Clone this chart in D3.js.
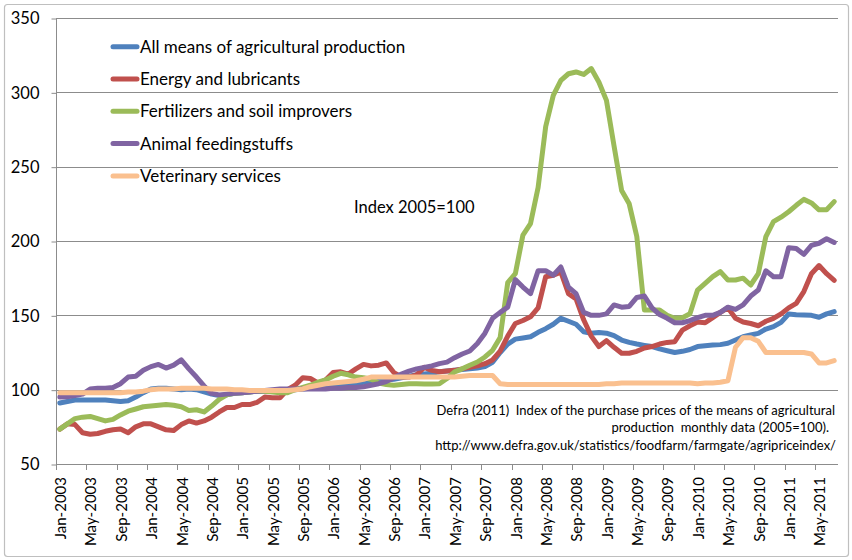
<!DOCTYPE html>
<html><head><meta charset="utf-8">
<script src="https://cdn.jsdelivr.net/npm/d3@7"></script>
<style>
html,body{margin:0;padding:0;background:#fff;}
svg text{font-family:Lato,"Noto Sans",sans-serif;fill:#000;white-space:pre;}
</style></head>
<body><svg id="c" width="852" height="560"></svg>
<script>
// Monthly categories Jan-2003 .. Jul-2011 (103 months)
const months = d3.timeMonth.range(new Date(2003,0,1), new Date(2011,7,1)).map(d3.timeFormat("%b-%Y"));
const tickLabels = ["Jan-2003","May-2003","Sep-2003","Jan-2004","May-2004","Sep-2004","Jan-2005","May-2005","Sep-2005","Jan-2006","May-2006","Sep-2006","Jan-2007","May-2007","Sep-2007","Jan-2008","May-2008","Sep-2008","Jan-2009","May-2009","Sep-2009","Jan-2010","May-2010","Sep-2010","Jan-2011","May-2011"];
const yTicks = [50,100,150,200,250,300,350];
const seriesNames = ["All means of agricultural production","Energy and lubricants","Fertilizers and soil improvers","Animal feedingstuffs","Veterinary services"];
const seriesColors = ["#4F81BD","#C0504D","#9BBB59","#8064A2","#FAC08F"];

const allMeans = [91,92,93,93,93,93,93,92.5,92,92.5,
 95,98,100.5,101,101,100.5,100,100.5,100,98.5,
 97,96,96.5,97.5,98,98.5,99,99,99,99.5,
 100,100,100.5,101,101,101.5,102,102.5,103,104,
 105,105.5,106,106.5,107,108,109,110,110.5,111,
 112,112.5,113,113.5,114,114.6,115.5,118.4,125,130.7,
 134,134.8,135.6,138.6,141,144,148,146,144,139,
 138,138.5,138,136.3,133.4,131.8,130.7,129.8,129,127.4,
 126.2,125,125.8,127,129,129.6,130,130.3,131.2,133.4,
 135.6,136.8,137.9,140.8,142.4,145.3,150.9,150.4,150.2,150,
 148.7,151,152.5];
const energy = [73.5,77,76.5,71,70,70.5,72,73,73.5,71,
 75,77,77,75,73,72.5,76.5,79,77.5,79,
 81.5,85,88,88,90,90,91.5,95,94.5,94.5,
 100,103,108,107.5,104.5,106.5,111.5,112,110.5,114,
 117,116,116.5,118,111.5,108.5,108.5,110,115,113,
 112,112.5,113,114,115,116,117.5,120,126,136,
 144.5,146.5,149,155,176,177,179,164.5,161,147,
 136,129,133,128.5,124.5,124.5,125.8,128,129,130.7,
 131.8,132.3,140,143,145.5,145,148.5,152,155,148,
 145.5,144.5,143,146,148,151,155,158,166,178,
 183.5,178,173.5];
const fertilizers = [73.5,77,80.5,81.5,82,80.5,79,80,83,85.5,
 87,88.5,89,89.5,90,89.5,88.5,86,86.5,85,
 89,93.5,96.5,97.5,98,98.5,99,99,98.5,98,
 98,100,101.5,103,105,106.5,109,111,110,108.5,
 108,107,104.5,103.5,103,103.5,104,104,103.8,103.8,
 104,107.5,112,114,116.4,118.6,122,126.5,135,172,
 178,204,211.7,236,277,298,308,312.5,313.7,312,
 316,307,294.6,264,234,225,203,153.6,153.6,153.6,
 150,148,148.4,151,167,171.5,176,179.4,173.8,173.8,
 175,170.4,178,203,213,216,219.7,224,228,225.6,
 221,221,226.5];
const feed = [95,95.3,96,97,100.4,101,101,101.5,104,108.5,
 109,113,115.5,117,114.5,116.5,120,114,108.5,102.5,
 97.5,96.5,97,97.5,98,98.5,99,99.5,100,100.5,
 100.5,100.5,100.5,100.5,100.5,100.5,101,101,101.5,101.5,
 102,103,104,105.5,108,110.5,112.5,114,115,116,
 117.5,118.5,121.5,124,126,131,138,148,152,155.5,
 174,169,164.6,180,180,177,182.5,169,164.6,152,
 150,150,151,157,155.5,156,162,163,155,150.5,
 148,145,145,146.5,148.5,150,150,152,155.5,154,
 157,163,167,180,176,176,195.5,195,191,197,
 198.5,201.5,199];
const veterinary = [98,98,98,98,98,98,98,98,98,98.5,
 98.5,99,100,100.5,100.5,100.5,101,101,101,101,
 100.5,100.5,100.5,100,100,99.5,99.5,99.5,99.5,99.5,
 99.5,100,100.5,102,103,104,104.5,105,105.5,106,
 107,108.5,108.5,108.5,108.5,108.5,108.5,108.5,108.5,108.5,
 108.5,108.5,108.5,109,109.5,109.5,109.5,109.5,104,103.5,
 103.5,103.5,103.5,103.5,103.5,103.5,103.5,103.5,103.5,103.5,
 103.5,103.5,104,104,104.5,104.5,104.5,104.5,104.5,104.5,
 104.5,104.5,104.5,104.5,104,104.5,104.5,105,106,128.5,
 135,135,132.5,125,125,125,125,125,125,124,
 118,118,119.5];
const seriesValues = [allMeans, energy, fertilizers, feed, veterinary];

const svg = d3.select("#c");
const L = 56, R = 838, T = 18, B = 464;
const x = d3.scaleBand().domain(months).range([L, R]);
const y = d3.scaleLinear().domain([50, 350]).range([B, T]);
const bw = x.bandwidth();

// frame
svg.append("rect").attr("x",4.5).attr("y",4.5).attr("width",844).attr("height",552)
  .attr("rx",3).attr("fill","#fff").attr("stroke","#bfbfbf").attr("stroke-width",1.2);

// grid
svg.append("g").selectAll("line").data(yTicks).join("line")
  .attr("x1", L).attr("x2", R)
  .attr("y1", d => Math.round(y(d)) + 0.5).attr("y2", d => Math.round(y(d)) + 0.5)
  .attr("stroke", "#8c8c8c").attr("stroke-width", 1);

// y axis
const yAxis = d3.axisLeft(y).tickValues(yTicks).tickSize(5).tickPadding(12);
const gy = svg.append("g").attr("transform", `translate(${L+0.5},0.5)`).call(yAxis);
gy.select(".domain").attr("stroke", "#8c8c8c").attr("d", `M0,${T}V${B}`);
gy.selectAll(".tick line").attr("stroke", "#8c8c8c");
gy.selectAll("text").attr("font-size", 16.5).attr("font-family", "Lato").attr("fill", "#000");

// x axis
const tickMonths = months.filter(m => tickLabels.includes(m));
const gx = svg.append("g");
gx.append("line").attr("x1", L).attr("x2", R).attr("y1", B + 0.5).attr("y2", B + 0.5).attr("stroke", "#8c8c8c");
gx.selectAll("line.t").data(tickMonths).join("line").attr("class","t")
  .attr("x1", d => Math.round(x(d)) + 0.5).attr("x2", d => Math.round(x(d)) + 0.5)
  .attr("y1", B).attr("y2", B + 6).attr("stroke", "#8c8c8c");
gx.selectAll("text").data(tickMonths).join("text")
  .attr("transform", d => `translate(${x(d) + bw/2 + 1},${B + 13}) rotate(-90)`)
  .attr("text-anchor", "end").attr("dy", "0.35em")
  .attr("font-size", 15).text(d => d);

// lines
const line = d3.line().x((d, i) => x(months[i]) + bw/2).y(d => y(d));
svg.append("g").selectAll("path").data(seriesValues).join("path")
  .attr("d", d => line(d)).attr("fill", "none")
  .attr("stroke", (d, i) => seriesColors[i]).attr("stroke-width", 5)
  .attr("stroke-linejoin", "round").attr("stroke-linecap", "round");

// legend
const lg = svg.append("g").selectAll("g").data(seriesNames).join("g")
  .attr("transform", (d, i) => `translate(0,${46.7 + i * 32.3})`);
lg.append("line").attr("x1", 113).attr("x2", 137).attr("stroke", (d, i) => seriesColors[i])
  .attr("stroke-width", 5).attr("stroke-linecap", "round");
lg.append("text").attr("x", 140).attr("dy", "0.35em").attr("font-size", 17).text(d => d);

// annotations
svg.append("text").attr("x", 354).attr("y", 207).attr("dy", "0.35em").attr("font-size", 16.5).text("Index 2005=100");
const src = [
  {t: "Defra (2011)  Index of the purchase prices of the means of agricultural", x: 835, y: 410.5},
  {t: "production  monthly data (2005=100).", x: 829, y: 427.5},
  {t: "http://www.defra.gov.uk/statistics/foodfarm/farmgate/agripriceindex/", x: 836, y: 445.5}
];
svg.append("g").selectAll("text").data(src).join("text")
  .attr("x", d => d.x).attr("y", d => d.y).attr("dy", "0.35em").attr("text-anchor", "end")
  .attr("font-size", 13).text(d => d.t);
</script></body></html>
